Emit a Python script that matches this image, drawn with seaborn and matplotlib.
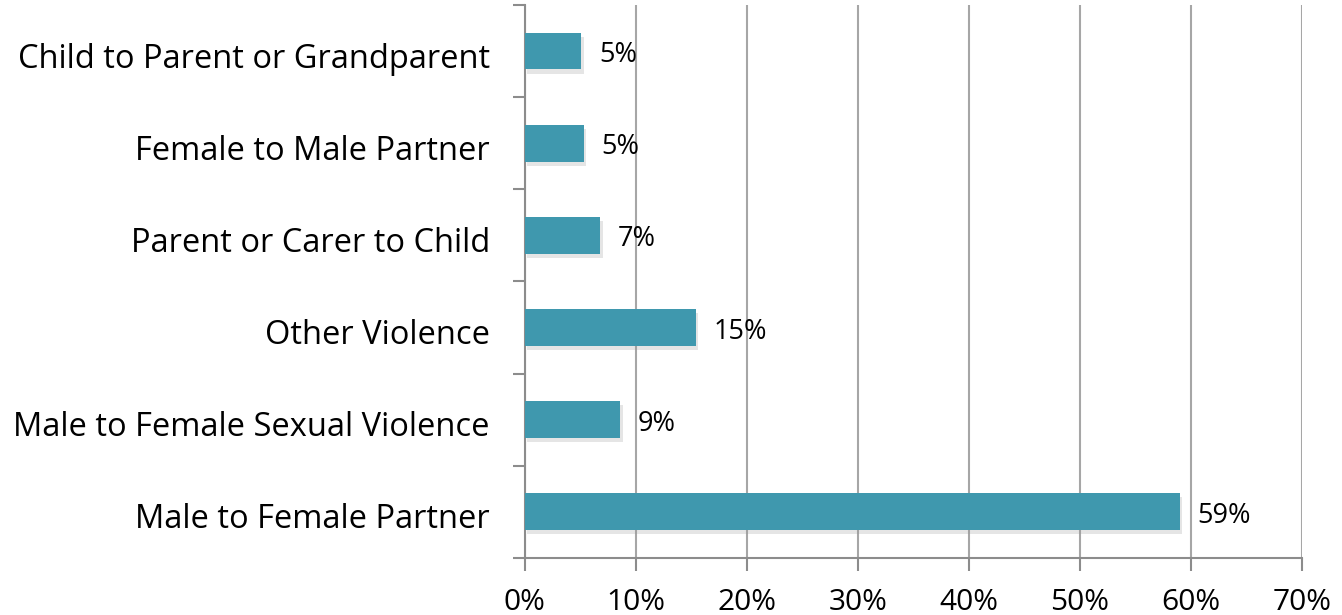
import numpy as np
import pandas as pd
import matplotlib
matplotlib.use("Agg")
import matplotlib.pyplot as plt
import matplotlib.patheffects as pe
import matplotlib.transforms as mtransforms
from matplotlib.ticker import FixedLocator, PercentFormatter
import seaborn as sns

categories = [
    "Child to Parent or Grandparent",
    "Female to Male Partner",
    "Parent or Carer to Child",
    "Other Violence",
    "Male to Female Sexual Violence",
    "Male to Female Partner",
]
values = [5.1, 5.3, 6.8, 15.4, 8.6, 59.0]
value_labels = ["5%", "5%", "7%", "15%", "9%", "59%"]

df = pd.DataFrame({"category": categories, "value": values})

sns.set_theme(style="white")
plt.rcParams["font.family"] = ["Open Sans", "DejaVu Sans"]
plt.rcParams["text.color"] = "black"
plt.rcParams["xtick.color"] = "black"
plt.rcParams["ytick.color"] = "black"

fig = plt.figure(figsize=(13.42, 6.15), dpi=100)
ax = fig.add_axes([0.391, 0.093, 0.579, 0.899])

bar_color = "#3F98AE"
sns.barplot(data=df, x="value", y="category", color=bar_color, saturation=1,
            width=0.4, edgecolor="none", linewidth=0, ax=ax, zorder=3)

# soft drop shadow like the office chart
for p in ax.patches:
    p.set_path_effects([pe.SimplePatchShadow(offset=(2, -3), shadow_rgbFace="#9A9A9A", alpha=0.25),
                        pe.Normal()])

shift = mtransforms.ScaledTranslation(0, -3 / 72, fig.dpi_scale_trans)
for i, (v, lab) in enumerate(zip(values, value_labels)):
    ax.text(v + 1.6, i, lab, va="center", ha="left", fontsize=19.5, color="black",
            transform=ax.transData + shift)

ax.set_xlim(0, 70)
ax.set_ylim(5.5, -0.5)
ax.xaxis.set_major_locator(FixedLocator(np.arange(0, 71, 10)))
ax.xaxis.set_major_formatter(PercentFormatter(decimals=0))

ax.grid(axis="x", color="#A6A6A6", linewidth=1.5, zorder=0)
ax.set_axisbelow(True)

ax.set_xlabel("")
ax.set_ylabel("")

for s in ["top", "right"]:
    ax.spines[s].set_visible(False)
for s in ["left", "bottom"]:
    ax.spines[s].set_color("#8C8C8C")
    ax.spines[s].set_linewidth(1.5)

ax.tick_params(axis="x", which="major", direction="out", length=9, width=1.5,
               color="#8C8C8C", labelcolor="black", labelsize=21.5, pad=13, bottom=True)
ax.tick_params(axis="y", which="major", length=0, labelsize=23.5, labelcolor="black", pad=25)
ax.yaxis.set_minor_locator(FixedLocator(np.arange(-0.5, 6, 1)))
ax.tick_params(axis="y", which="minor", direction="out", length=9, width=1.5,
               color="#8C8C8C", left=True)

for t in ax.get_yticklabels():
    t.set_transform(t.get_transform() + shift)

fig.savefig("out.png", dpi=100)
